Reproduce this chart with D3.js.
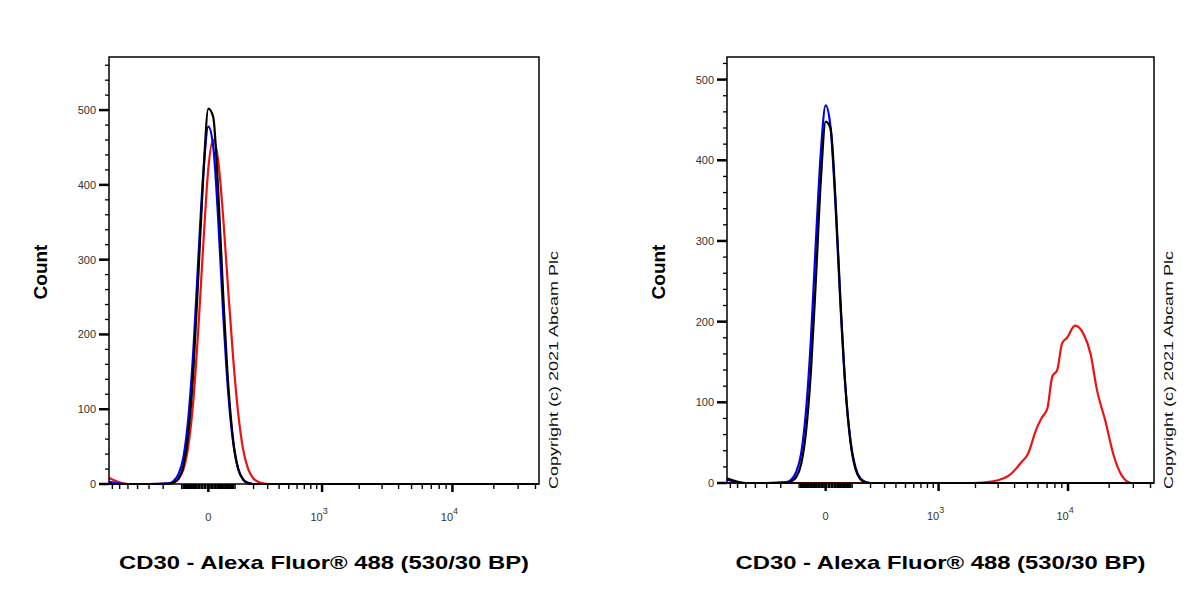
<!DOCTYPE html>
<html><head><meta charset="utf-8">
<script src="https://cdn.jsdelivr.net/npm/d3@7"></script>
<style>body{margin:0;background:#fff}</style></head>
<body><svg id="c" width="1200" height="600"></svg>
<script>
// shared x positions near zero (data units)
const xNear = [-750,-500,-300,-168,-140,-115,-91,-70,-50,-32,-15,0,15,32,50,70,92,115,140,168,197,230,265,303,389,600,1000,3000,10000,42400];
// Left panel counts (aligned to xNear)
const leftBlack = [0,0,0,0.3,2,7,25,69,155,281,417,502,491,392,254,134,57,20,6,1,0,0,0,0,0,0,0,0,0,0];
const leftBlue  = [3,0,0,1,4,13,37,90,182,304,419,478,452,353,228,122,54,20,6,1.5,0,0,0,0,0,0,0,0,0,0];
const leftRed   = [8,0,0,0.4,1.8,6.6,20,52,114,210,325,422,460,432,357,259,166,94,46,20,8,3,1,0,0,0,0,0,0,0];
// Right panel counts
const rightBlack = [6,0,0,0.3,2,7,23,62,138,250,375,448,440,352,228,120,51,18,5,1,0,0,0,0,0,0,0,0,0,0];
const rightBlue  = [4,0,0,1,4,13,36,88,178,298,410,468,442,345,223,119,53,20,6,1.5,0,0,0,0,0,0,0,0,0,0];
const rightRedX = [-750,1000,1917,2736,3676,4520,5006,5836,6457,7027,7650,8316,9040,9830,11250,13060,14680,16220,18830,21510,24570,28990,42400];
const rightRed  = [0,0,0,2,10,26,35,67,82,92,132,140,173,180,195,184,159,117,76,35,10,0,0];
const yTicks = [0,100,200,300,400,500];
const xLabel = "CD30 - Alexa Fluor® 488 (530/30 BP)";
const copyright = "Copyright (c) 2021 Abcam Plc";

const svg = d3.select("#c");
const font = "Liberation Sans, Arial, sans-serif";

function minorTicks(){
  const t=[];
  for(let v=-700;v<=-100;v+=100)t.push(v);
  for(let v=-90;v<=90;v+=10)t.push(v);
  for(let v=100;v<=900;v+=100)t.push(v);
  for(let v=2000;v<=9000;v+=1000)t.push(v);
  for(let v=20000;v<=40000;v+=10000)t.push(v);
  return t;
}

function panel(x0,x1,y0,y1,ymax,series){
  const x=d3.scaleSymlog().constant(180).domain([-750,42400]).range([x0,x1]);
  const y=d3.scaleLinear().domain([0,ymax]).range([y1,y0]);
  const g=svg.append("g");
  const line=d3.line().x(d=>x(d[0])).y(d=>y(d[1])).curve(d3.curveMonotoneX);
  series.forEach(s=>{
    g.append("path").datum(s.xs.map((v,i)=>[v,s.ys[i]])).attr("d",line)
     .attr("fill","none").attr("stroke",s.color).attr("stroke-width",2.2);
  });
  g.append("rect").attr("x",x0).attr("y",y0).attr("width",x1-x0).attr("height",y1-y0)
   .attr("fill","none").attr("stroke","#000").attr("stroke-width",1.5);
  const ym=d3.range(0,ymax,20);
  g.selectAll(".ym").data(ym).join("line").attr("x1",x0)
   .attr("y1",d=>y(d)).attr("y2",d=>y(d)).attr("stroke","#000").attr("stroke-width",d=>d%100===0?2.5:1.3)
   .attr("x2",d=>d%100===0?x0-10:x0-4);
  g.selectAll(".yl").data(yTicks).join("text").attr("x",x0-13).attr("y",d=>y(d)+4)
   .attr("text-anchor","end").attr("font-family",font).attr("font-size",11).attr("fill","#333").text(d=>d);
  g.selectAll(".xm").data(minorTicks()).join("line").attr("x1",d=>x(d)).attr("x2",d=>x(d))
   .attr("y1",y1).attr("y2",y1+5).attr("stroke","#000").attr("stroke-width",d=>Math.abs(d)<100?3:1.4);
  g.selectAll(".xM").data([0,1000,10000]).join("line").attr("x1",d=>x(d)).attr("x2",d=>x(d))
   .attr("y1",y1).attr("y2",y1+8).attr("stroke","#000").attr("stroke-width",2.5);
  const tl=g.append("g").attr("font-family",font).attr("fill","#333");
  tl.append("text").attr("x",x(0)).attr("y",y1+37).attr("text-anchor","middle").attr("font-size",11).text("0");
  [[1000,"3"],[10000,"4"]].forEach(([v,e])=>{
    const t=tl.append("text").attr("x",x(v)-3).attr("y",y1+37).attr("text-anchor","middle").attr("font-size",11);
    t.append("tspan").text("10");
    t.append("tspan").attr("dy",-7).attr("font-size",9).text(e);
  });
  svg.append("text").attr("x",(x0+x1)/2).attr("y",569).attr("text-anchor","middle")
   .attr("font-family",font).attr("font-weight","bold").attr("font-size",19)
   .attr("textLength",410).attr("lengthAdjust","spacingAndGlyphs").text(xLabel);
  svg.append("text").attr("transform",`translate(${x0-62},${272}) rotate(-90)`)
   .attr("text-anchor","middle").attr("font-family",font).attr("font-weight","bold").attr("font-size",19).text("Count");
  svg.append("text").attr("transform",`translate(${x1+19},${370}) rotate(-90)`)
   .attr("text-anchor","middle").attr("font-family",font).attr("font-size",13).attr("fill","#111")
   .attr("textLength",238).attr("lengthAdjust","spacingAndGlyphs").text(copyright);
}

panel(109,539,57,484,571,[
  {xs:xNear,ys:leftRed,color:"#ee1111"},
  {xs:xNear,ys:leftBlue,color:"#0000ee"},
  {xs:xNear,ys:leftBlack,color:"#000"}
]);
panel(727,1154,57,483,528,[
  {xs:rightRedX,ys:rightRed,color:"#ee1111"},
  {xs:xNear,ys:rightBlue,color:"#0000ee"},
  {xs:xNear,ys:rightBlack,color:"#000"}
]);
</script></body></html>
